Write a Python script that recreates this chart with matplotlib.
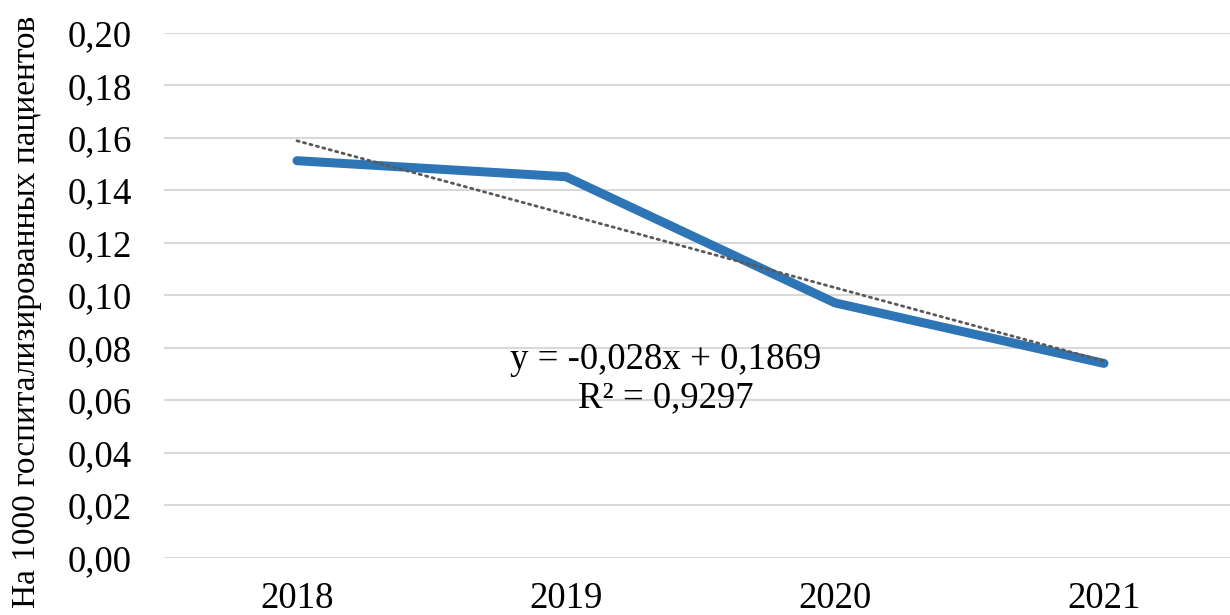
import numpy as np
import matplotlib
matplotlib.use("Agg")
import matplotlib.pyplot as plt

years = ["2018", "2019", "2020", "2021"]
values = [0.15131, 0.14519, 0.09709, 0.07401]
y_ticks = [0.00, 0.02, 0.04, 0.06, 0.08, 0.10, 0.12, 0.14, 0.16, 0.18, 0.20]
y_label = "На 1000 госпитализированных пациентов"

plt.rcParams['font.family'] = ['Liberation Serif', 'DejaVu Serif']

fig = plt.figure(figsize=(12.3, 6.15), dpi=100)
W, H = 1230, 615
left, right, top, bottom = 164, 1230, 33, 557.5
ax = fig.add_axes([left / W, 1 - bottom / H, (right - left) / W, (bottom - top) / H])

x = np.arange(len(years))
ax.plot(x, values, color='#2E75B6', lw=6.5, solid_capstyle='round', solid_joinstyle='round', zorder=3)

# linear trendline (x = 1..n as in Excel)
xn = x + 1
slope, intercept = np.polyfit(xn, values, 1)
fit = slope * xn + intercept
ss_res = np.sum((np.array(values) - fit) ** 2)
ss_tot = np.sum((np.array(values) - np.mean(values)) ** 2)
r2 = 1 - ss_res / ss_tot
ax.plot(x, fit, color='#595959', lw=2.0, linestyle=(0, (0.8, 1.6)), dash_capstyle='round', zorder=4)

eq = "y = {:.3f}x + {:.4f}\nR² = {:.4f}".format(slope, intercept, r2).replace('.', ',')
ax.text(1.372, 0.0681, eq, ha='center', va='center', fontsize=26.5, linespacing=1.15, color='black', zorder=5)

ax.set_xlim((left - 297) / 269, (right - 297) / 269)
ax.set_ylim(0, 0.20)
ax.set_xticks(x)
ax.set_xticklabels(years, fontsize=26.5)
ax.set_yticks(y_ticks)
ax.set_yticklabels(["{:.2f}".format(v).replace('.', ',') for v in y_ticks], fontsize=26.5)
ax.tick_params(length=0)
ax.tick_params(axis='y', pad=23)
ax.tick_params(axis='x', pad=17)
ax.grid(axis='y', color='#D9D9D9', lw=1.5)
ax.set_axisbelow(True)
for s in ax.spines.values():
    s.set_visible(False)

fig.text(27 / W, 1 - 312 / H, y_label, rotation=90, ha='center', va='center', fontsize=24)

fig.savefig("out.png", dpi=100)
